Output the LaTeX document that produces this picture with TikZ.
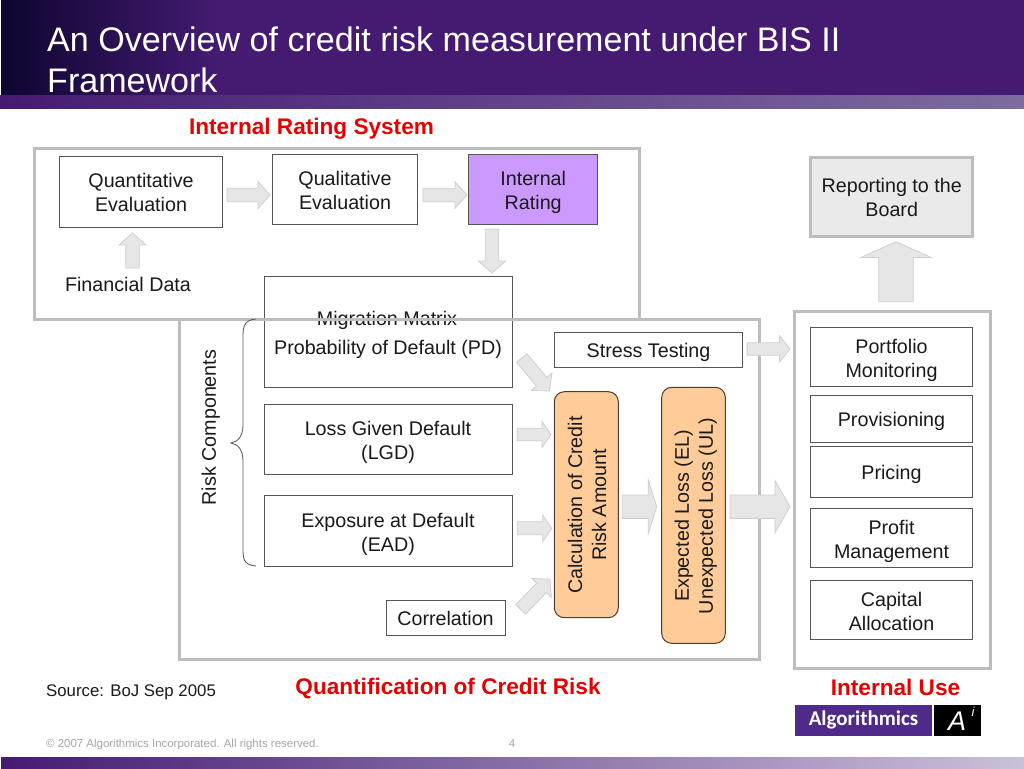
\documentclass[tikz,border=0pt]{standalone}
\usepackage{fontspec}
\setmainfont{Liberation Sans}
\newfontfamily\logofont{Carlito}
\usetikzlibrary{shadings}
\definecolor{deep}{HTML}{451B72}
\definecolor{nightp}{HTML}{0E0530}
\definecolor{bandend}{HTML}{7D6C9F}
\definecolor{footend}{HTML}{CBC0DA}
\definecolor{framegray}{HTML}{BDBDBD}
\definecolor{boxline}{HTML}{555555}
\definecolor{arrowfill}{HTML}{E6E6E6}
\definecolor{arrowline}{HTML}{CFCFCF}
\definecolor{peach}{HTML}{FFCC99}
\definecolor{lilac}{HTML}{CC99FF}
\definecolor{boardgray}{HTML}{EAEAEA}
\definecolor{redlabel}{HTML}{E60000}
\definecolor{logopurple}{HTML}{4F2A8A}
\definecolor{footgray}{HTML}{A6A6A6}
\definecolor{bodytext}{HTML}{1A1A1A}
\newcommand{\oneline}[1]{\rule[-4pt]{0pt}{22pt}#1}
\newcommand{\twolines}[3][20]{\rule{0pt}{#1pt}#2\\#3\rule[-4pt]{0pt}{4pt}}
\tikzset{
  x=1pt,y=-1pt,
  txt/.style={font=\fontsize{19.7}{24}\selectfont,text=bodytext,align=center,inner sep=0pt},
  box/.style={draw=boxline,line width=1pt,fill=white,inner sep=0pt},
  frame/.style={draw=framegray,line width=3pt},
  peachbox/.style={draw=black!70!peach,line width=1pt,fill=peach,rounded corners=10pt},
  redtxt/.style={font=\fontsize{22.6}{26}\bfseries\selectfont,text=redlabel,inner sep=0pt,anchor=base},
  blockarrow/.style={draw=arrowline,fill=arrowfill,line width=.8pt,line join=miter},
}
% centre, length, shaft width, head width, head length, rotation
\newcommand{\blockarr}[6]{%
\begin{scope}[shift={(#1)},rotate=#6]
\pgfmathsetmacro{\halfL}{#2/2}\pgfmathsetmacro{\neckX}{#2/2-#5}
\pgfmathsetmacro{\halfS}{#3/2}\pgfmathsetmacro{\halfH}{#4/2}
\draw[blockarrow] (-\halfL,-\halfS) -- (\neckX,-\halfS) -- (\neckX,-\halfH) -- (\halfL,0) -- (\neckX,\halfH) -- (\neckX,\halfS) -- (-\halfL,\halfS) -- cycle;
\end{scope}}
\begin{document}
\begin{tikzpicture}
\useasboundingbox (0,0) rectangle (1024,768);
\fill[white] (0,0) rectangle (1024,768);
% header
\shade[left color=nightp,right color=deep] (1,0) rectangle (220,95);
\fill[deep] (220,0) rectangle (1024,95);
\shade[left color=deep,right color=bandend] (0,95) rectangle (1024,108);
\shade[left color=deep,right color=footend] (1,757) rectangle (1024,768);
\node[anchor=base west,font=\fontsize{34.06}{38}\selectfont,text=white,inner sep=0pt] (title) at (47,52) {An Overview of credit risk measurement under BIS II};
\node[anchor=base west,font=\fontsize{34.06}{38}\selectfont,text=white,inner sep=0pt] (title2) at (47,92) {Framework};
% migration box under frame
\node[box,minimum width=248pt,minimum height=111pt] (pd) at (388,331.5) {};
\node[txt] (mig) at (387,318.5) {\oneline{Migration Matrix}};
\node[txt] (pdt) at (388,348) {\oneline{Probability of Default (PD)}};
% frames
\draw[frame] (34.5,148.5) rectangle (639.5,319);
\draw[frame] (179.5,319) rectangle (759.7,659);
\draw[frame] (794,311) rectangle (990,668);
% internal rating system
\node[box,txt,minimum width=162.5pt,minimum height=70.5pt] (quant) at (141,192) {\twolines[18]{Quantitative}{Evaluation}};
\node[box,txt,minimum width=145pt,minimum height=70.5pt] (qual) at (345,189.7) {\twolines{Qualitative}{Evaluation}};
\node[box,txt,fill=lilac,minimum width=128.5pt,minimum height=70.5pt] (ir) at (533.2,189.7) {\twolines{Internal}{Rating}};
\node[txt] (fin) at (128,284.7) {\oneline{Financial Data}};
\node[redtxt] (irs) at (311.5,134.5) {Internal Rating System};
% risk comp
\node[txt,rotate=90] (rc) at (209,427.5) {\oneline{Risk Components}};
\draw[line width=.8pt,draw=boxline] (256,319) .. controls (243,320) and (243,328) .. (243,338) -- (243,425) .. controls (243,436) and (238,442) .. (231,443) .. controls (238,444) and (243,450) .. (243,461) -- (243,548) .. controls (243,558) and (243,565) .. (256,566);
\node[box,txt,minimum width=248pt,minimum height=70pt] (lgd) at (388,439) {\twolines[22]{Loss Given Default}{(LGD)}};
\node[box,txt,minimum width=248pt,minimum height=71pt] (ead) at (388,531) {\twolines[22]{Exposure at Default}{(EAD)}};
\node[box,txt,minimum width=119pt,minimum height=35pt] (corr) at (445.5,618.3) {};
\node[txt] (corrt) at (445.5,618.5) {\oneline{Correlation}};
\node[box,txt,minimum width=188.4pt,minimum height=35pt] (stress) at (648.5,350.2) {};
\node[txt] (stresst) at (648.5,351) {\oneline{Stress Testing}};
\node[peachbox,minimum width=64pt,minimum height=226pt,inner sep=0pt] (calc) at (586.3,504.7) {};
\node[txt,rotate=90] (calct) at (587,505) {\twolines[18]{Calculation of Credit}{Risk Amount}};
\node[peachbox,minimum width=63.6pt,minimum height=256pt,inner sep=0pt] (el) at (693.5,515.3) {};
\node[txt,rotate=90] (elt) at (694,516) {\twolines[18]{Expected Loss (EL)}{Unexpected Loss (UL)}};
% internal use
\node[box,txt,line width=3pt,draw=framegray,fill=boardgray,minimum width=162pt,minimum height=79pt] (board) at (891.7,196.7) {\twolines{Reporting to the}{Board}};
\node[box,txt,minimum width=162.4pt,minimum height=59pt] (port) at (891.5,357.2) {\twolines{Portfolio}{Monitoring}};
\node[box,txt,minimum width=162.4pt,minimum height=47pt] (prov) at (891.5,419.3) {\oneline{Provisioning}};
\node[box,txt,minimum width=162.4pt,minimum height=51pt] (pric) at (891.5,472.3) {\oneline{Pricing}};
\node[box,txt,minimum width=162.4pt,minimum height=58.7pt] (prof) at (891.5,537.7) {\twolines[22]{Profit}{Management}};
\node[box,txt,minimum width=162.4pt,minimum height=58.7pt] (cap) at (891.5,610) {\twolines{Capital}{Allocation}};
% arrows
\blockarr{248.5,195}{43}{13.5}{27}{12}{0}
\blockarr{445,195}{44}{13.5}{26.5}{12}{0}
\blockarr{132.5,250.5}{35}{13.5}{27}{12}{90}
\blockarr{492,251}{44}{13.5}{27}{12}{-90}
\blockarr{535.5,374.5}{43}{13.5}{27}{12}{-50}
\blockarr{534,434.5}{34}{12.5}{26}{9}{0}
\blockarr{534.5,528.3}{34.4}{13}{26.5}{9}{0}
\blockarr{535.3,594.3}{42}{13.5}{27}{12}{46}
\blockarr{768.6,349}{43}{12.5}{26}{10.5}{0}
\blockarr{639.5,506.7}{34.4}{23.3}{53.3}{8.4}{0}
\blockarr{760,506.7}{60}{23.3}{52}{15}{0}
\blockarr{896,271.7}{60}{34.6}{70}{15.7}{90}
% labels
\node[redtxt] (qcr) at (448,694.5) {Quantification of Credit Risk};
\node[redtxt] (iu) at (895.5,695) {Internal Use};
\node[anchor=base west,font=\fontsize{16.8}{20}\selectfont,text=bodytext,inner sep=0pt] (src) at (46,696) {Source: BoJ Sep 2005};
% logo
\fill[logopurple] (795,705) rectangle (932,736);
\node[font=\logofont\fontsize{21}{24}\bfseries\selectfont,text=white,inner sep=0pt] (algo) at (863.5,720) {Algorithmics};
\fill[black] (934,705) rectangle (981,736);
\node[font=\fontsize{27}{28}\itshape\selectfont,text=white,inner sep=0pt] (ai) at (957,721) {A};
\node[font=\fontsize{13}{14}\itshape\selectfont,text=white,inner sep=0pt] (ii) at (973,712) {i};
% footer
\node[anchor=base west,font=\fontsize{11.46}{12}\selectfont,text=footgray,inner sep=0pt] (cr) at (46,747) {© 2007 Algorithmics Incorporated. All rights reserved.};
\node[anchor=base,font=\fontsize{11.46}{12}\selectfont,text=footgray,inner sep=0pt] (pg) at (512,747) {4};
\end{tikzpicture}
\end{document}
